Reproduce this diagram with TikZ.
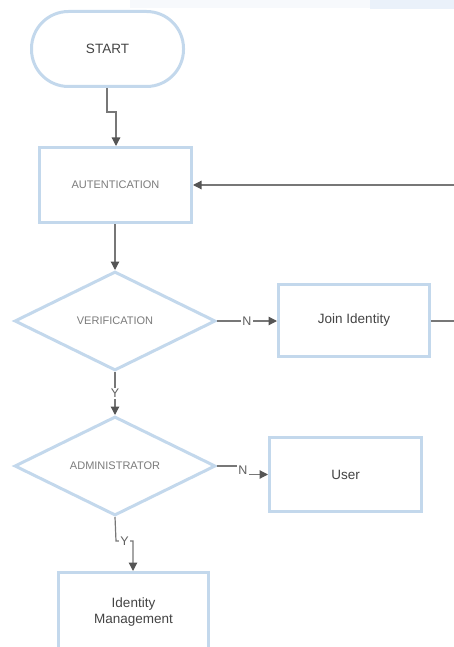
\documentclass[tikz,border=0pt]{standalone}
\usepackage{fontspec}
\setmainfont{Liberation Sans}
\usetikzlibrary{arrows.meta,shapes.geometric}
\definecolor{boxblue}{HTML}{C3D8EC}
\definecolor{linegray}{HTML}{777777}
\definecolor{tipgray}{HTML}{555555}
\definecolor{capgray}{HTML}{7C7C7C}
\definecolor{txtgray}{HTML}{444444}
\definecolor{faintA}{HTML}{F7F9FC}
\definecolor{faintB}{HTML}{EAF1FA}
\tikzset{
  boxnode/.style={draw=boxblue, line width=3pt, rectangle, inner sep=0pt, fill=white},
  termnode/.style={draw=boxblue, line width=3pt, rectangle, rounded corners=37pt, inner sep=0pt, fill=white},
  decnode/.style={draw=boxblue, line width=3pt, diamond, inner sep=0pt, fill=white},
  capfont/.style={font=\fontsize{11}{13}\selectfont, text=capgray},
  bodyfont/.style={font=\fontsize{13.5}{16}\selectfont, text=txtgray, align=center},
  conn/.style={draw=linegray, line width=1.2pt, -{Triangle[length=8.5pt,width=8.5pt,color=tipgray]}},
  lbl/.style={fill=white, inner sep=1pt, font=\fontsize{12.5}{14}\selectfont, text=txtgray!85}
}
\begin{document}
\begin{tikzpicture}[x=1pt,y=-1pt]
\useasboundingbox (0,0) rectangle (454,647);
\clip (0,0) rectangle (454,647);
% faint screenshot band at the top
\fill[faintA] (130,0) rectangle (370,8);
\fill[faintB] (370,0) rectangle (454,9);

\node[termnode, minimum width=152pt, minimum height=75pt, font=\fontsize{13.5}{15}\selectfont, text=txtgray] (start) at (107.5,49) {START};
\node[boxnode, minimum width=152pt, minimum height=75pt, capfont] (auth) at (115.5,185) {AUTENTICATION};
\node[decnode, minimum width=201pt, minimum height=99pt, capfont] (verif) at (115,321) {VERIFICATION};
\node[boxnode, minimum width=151pt, minimum height=72pt, bodyfont] (join) at (354,320.5) {Join Identity};
\node[decnode, minimum width=201pt, minimum height=99pt, capfont] (admin) at (115,466) {ADMINISTRATOR};
\node[boxnode, minimum width=152pt, minimum height=74pt, bodyfont] (user) at (345.5,474.5) {User};
\node[boxnode, minimum width=150pt, minimum height=80pt, bodyfont] (idm) at (133.5,612.5) {Identity\\Management};

\coordinate (j1) at (107,112);
\coordinate (j2) at (116,112);
\draw[conn] (start.south -| j1) -- (j1) -- (j2) -- (j2 |- auth.north);

\coordinate (fb1) at (464,321);
\coordinate (fb2) at (464,185);
\draw[conn] (join.east |- fb1) -- (fb1) -- (fb2) -- (auth.east |- fb2);

\draw[conn] (auth.south -| verif.north) -- (verif.north);

\draw[conn] (verif.east) -- node[lbl, pos=0.5] {N} (join.west |- verif.east);

\draw[conn] (verif.south) -- node[lbl, pos=0.5] {Y} (admin.north);

\coordinate (n1) at (243,466);
\coordinate (n2) at (243,474.5);
\draw[conn] (admin.east) -- (n1) -- (n2) -- (user.west);
\node[lbl] (nlab) at (243,470) {N};

\coordinate (y1) at (116,541);
\coordinate (y2) at (133,541);
\draw[conn] (admin.south) -- (y1) -- (y2) -- (y2 |- idm.north);
\node[lbl] (ylab) at (124.5,541) {Y};
\end{tikzpicture}
\end{document}
